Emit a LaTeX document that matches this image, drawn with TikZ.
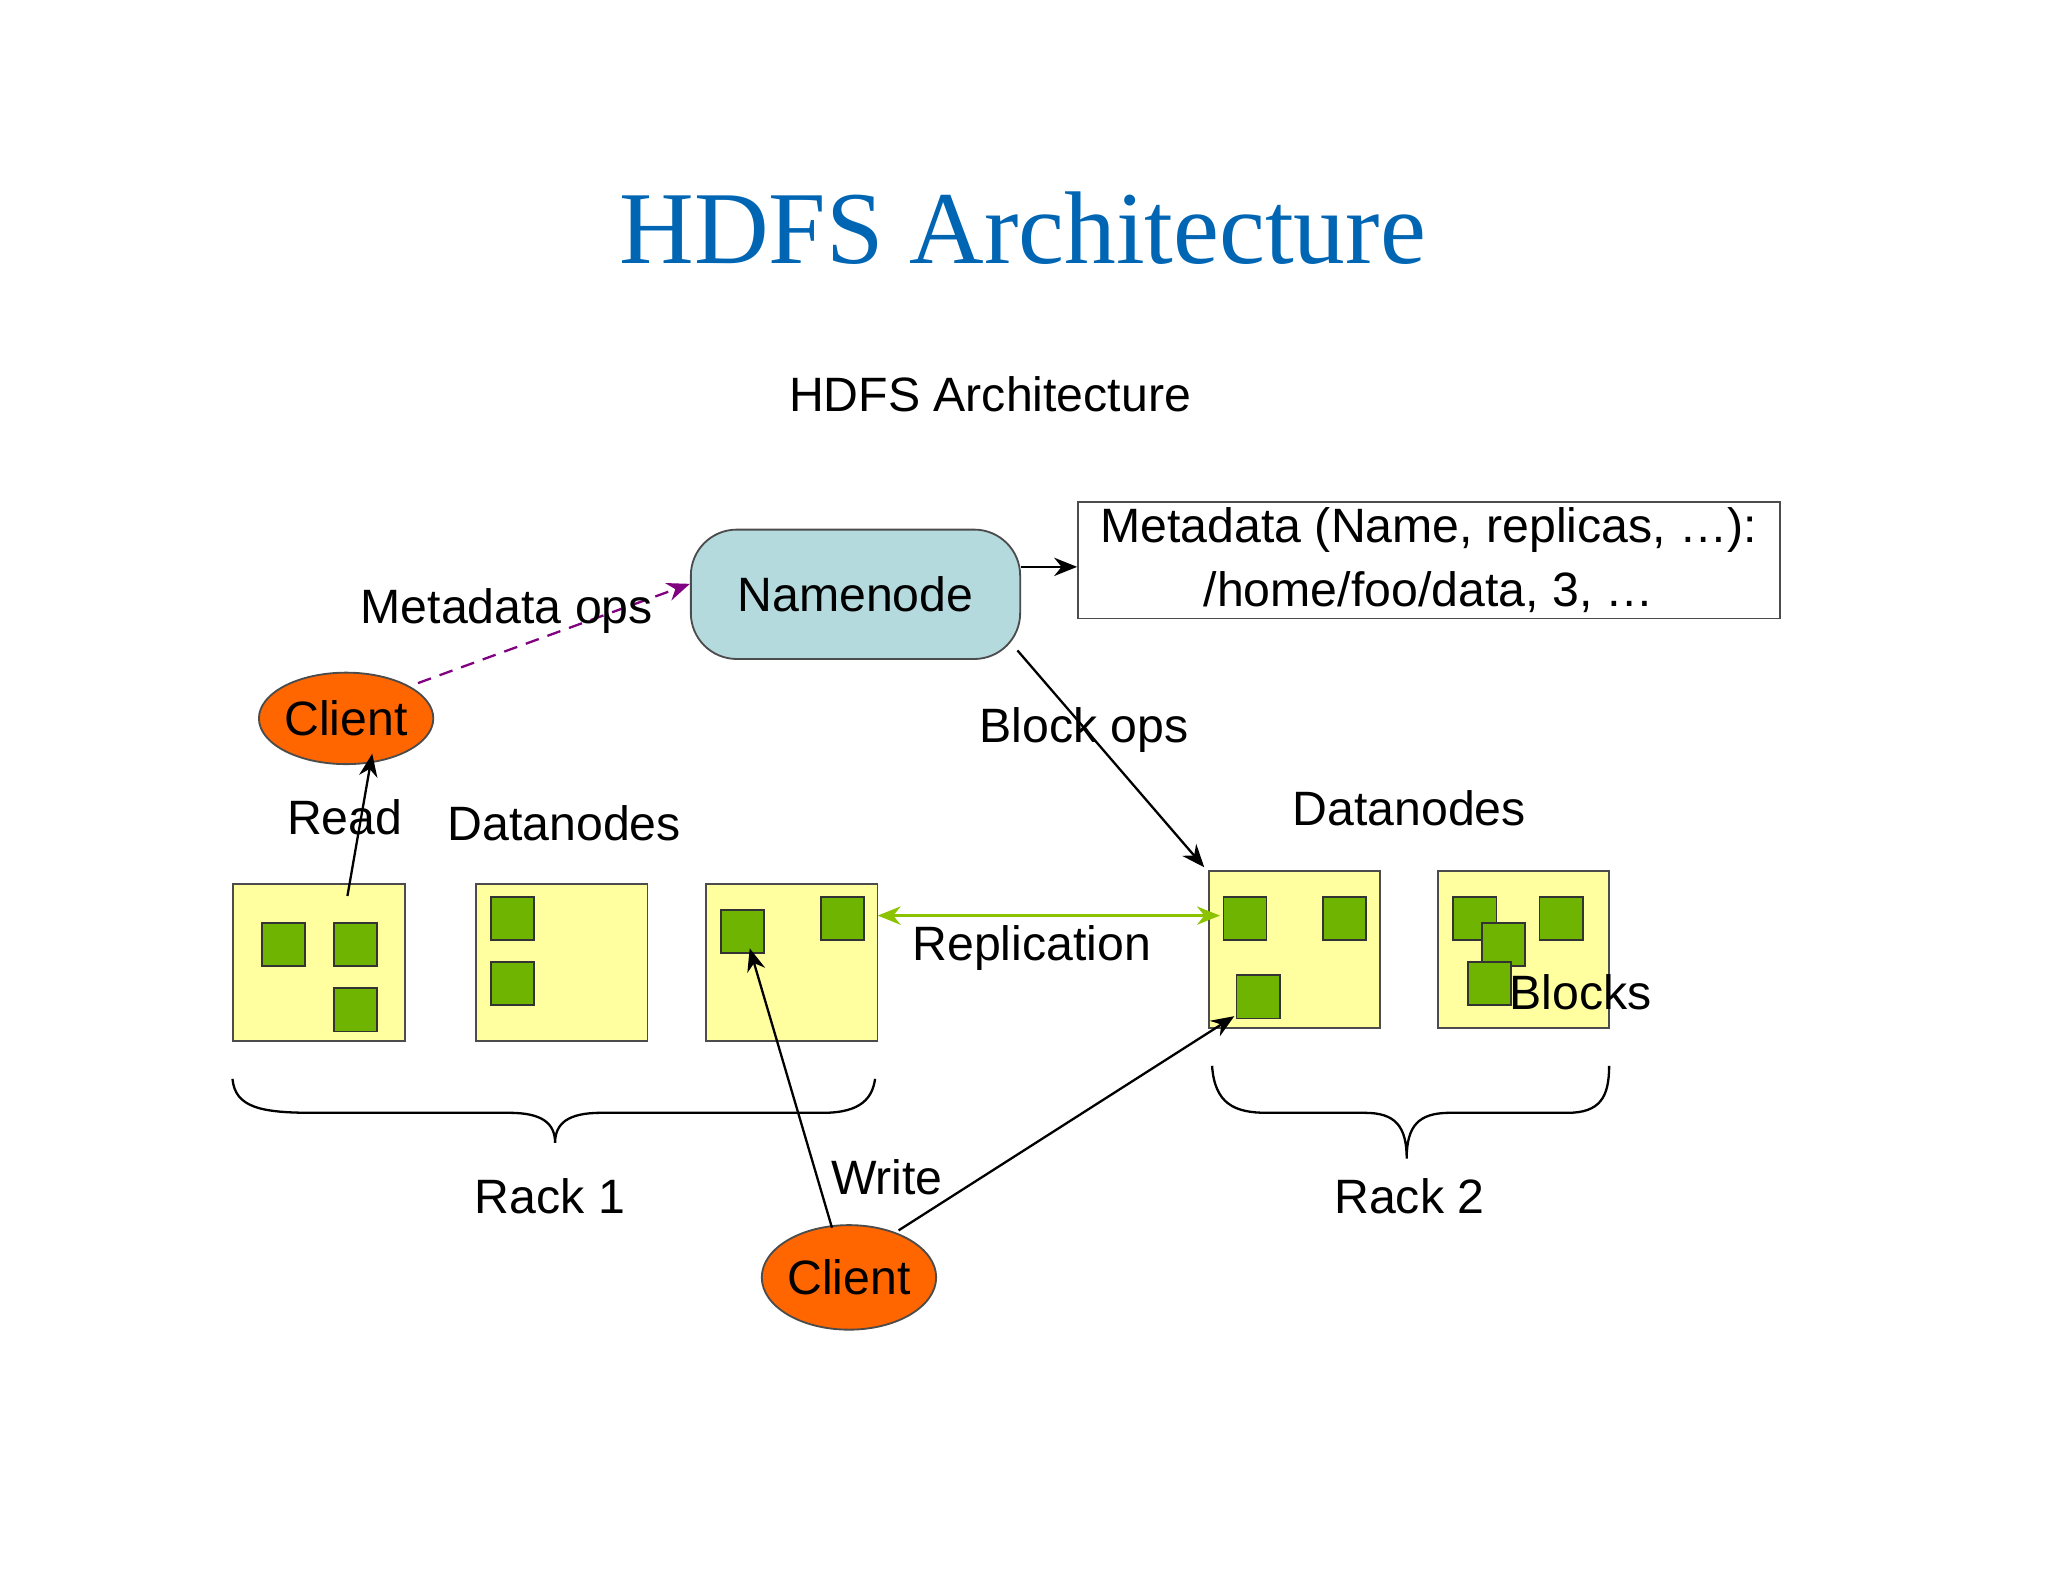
\documentclass[tikz,border=0pt]{standalone}
\usepackage{fontspec}
\setmainfont{Liberation Sans}
\newfontfamily\ttlfont{Liberation Serif}
\usetikzlibrary{arrows.meta,shapes.geometric}
\definecolor{nnblue}{RGB}{180,218,222}
\definecolor{dnyel}{RGB}{255,255,160}
\definecolor{blkgr}{RGB}{110,180,0}
\definecolor{clor}{RGB}{255,102,0}
\definecolor{ttl}{RGB}{0,102,180}
\begin{document}
\begin{tikzpicture}[x=0.01cm,y=-0.01cm,
  lbl/.style={font=\fontsize{10.5pt}{12pt}\selectfont,inner sep=0},
  dn/.style={draw=black!70,fill=dnyel,minimum width=1.31cm,minimum height=1.2cm,anchor=north west,inner sep=0},
  blk/.style={draw=black!80,fill=blkgr,minimum size=0.33cm,anchor=north west,inner sep=0},
  cl/.style={ellipse,draw=black!70,fill=clor,inner sep=0,font=\fontsize{10.5pt}{12pt}\selectfont},
  arr/.style={-{Stealth[length=5pt,width=4pt]},black,line width=0.5pt}]
\useasboundingbox (0,0) rectangle (1568,1211);
\node[font=\ttlfont\fontsize{22.5pt}{26pt}\selectfont,text=ttl] at (783,175) {HDFS Architecture};
\node[lbl] (sub) at (758,302) {HDFS Architecture};
\node[draw=black!70,fill=nnblue,rounded corners=10pt,minimum width=2.52cm,minimum height=0.99cm,lbl] (nn) at (655,455) {Namenode};
\node[draw=black!70,minimum width=5.37cm,minimum height=0.89cm,lbl,align=center] (meta) at (1094,429) {Metadata (Name, replicas, \dots):\\[2pt]/home/foo/data, 3, \dots};
\draw[arr] (nn.east|-0,434) -- (meta.west|-0,434);
\node[cl,minimum width=1.31cm,minimum height=0.7cm] (c1) at (265,550) {Client};
\node[cl,minimum width=1.32cm,minimum height=0.8cm] (c2) at (650,978) {Client};
\node[dn] (d1) at (178,676) {};
\node[dn] (d2) at (364,676) {};
\node[dn] (d3) at (540,676) {};
\node[dn] (d4) at (925,666) {};
\node[dn] (d5) at (1100,666) {};
\foreach \x/\y/\n in {200/706/b1,255/706/b2,255/756/b3,375/686/b4,375/736/b5,551/696/b6,628/686/b7,936/686/b8,1012/686/b9,946/746/b10,1112/686/b11,1178/686/b12,1134/706/b13,1123/736/b14}
  \node[blk] (\n) at (\x,\y) {};
\coordinate (m0) at (320,523);
\draw[densely dashed,-{Stealth[length=5pt,width=4pt]},color=violet,line width=0.5pt] (m0) -- (nn.west|-0,447);
\node[lbl] at (388,468) {Metadata ops};
\coordinate (r0) at (266,686);
\draw[arr] (r0) -- (285,577);
\node[lbl] at (264,626) {Read};
\node[lbl] at (432,630) {Datanodes};
\node[lbl] at (1079,619) {Datanodes};
\draw[arr] (779,498) -- (922,664);
\node[lbl] at (830,559) {Block ops};
\draw[{Stealth[length=5pt,width=4pt]}-{Stealth[length=5pt,width=4pt]},color=blkgr!80!yellow,line width=0.5pt] (672,701) -- (934,701);
\node[lbl] at (790,726) {Replication};
\node[lbl] at (1210,760) {Blocks};
\draw[line width=0.5pt] (178,826) .. controls (180,848) and (200,852) .. (240,852) -- (390,852) .. controls (415,852) and (425,860) .. (425,875)
  .. controls (425,860) and (435,852) .. (460,852) -- (630,852) .. controls (660,852) and (668,840) .. (670,826);
\draw[line width=0.5pt] (928,816) .. controls (930,845) and (945,852) .. (970,852) -- (1045,852) .. controls (1068,852) and (1077,862) .. (1077,887)
  .. controls (1077,862) and (1086,852) .. (1110,852) -- (1200,852) .. controls (1225,852) and (1232,840) .. (1232,816);
\node[lbl] at (421,916) {Rack 1};
\node[lbl] at (1079,916) {Rack 2};
\draw[arr] (637,940) -- (574,726);
\draw[arr] (688,942) -- (945,778);
\node[lbl] at (679,901) {Write};
\end{tikzpicture}
\end{document}
